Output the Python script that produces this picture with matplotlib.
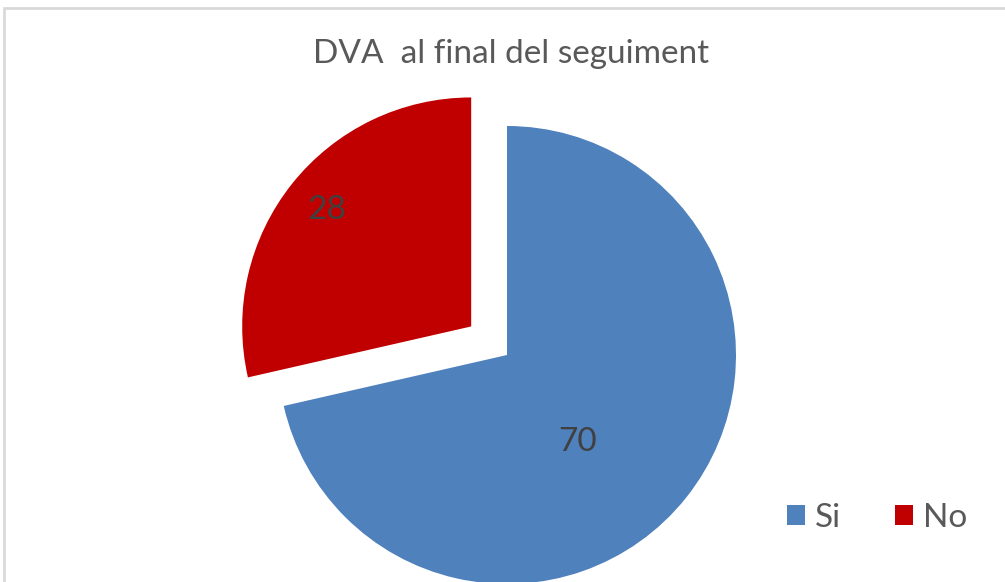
import numpy as np
import matplotlib
matplotlib.use("Agg")
from matplotlib import pyplot as plt
from matplotlib.patches import Rectangle

# data
labels = ["Si", "No"]
values = [70, 28]
colors = ["#4F81BD", "#C00000"]
explode = [0, 0.2]  # fraction of radius

plt.rcParams['font.family'] = ['Lato', 'DejaVu Sans']

fig = plt.figure(figsize=(10.05, 5.82), dpi=100)
ax = fig.add_axes([0, 0, 1, 1])

# chart frame
fig.patches.append(Rectangle((4 / 1005, -0.1), 1.2, (582 - 8) / 582 + 0.1,
                             transform=fig.transFigure, fill=False,
                             edgecolor="#D9D9D9", linewidth=2))

center = (507, 582 - 355)
radius = 229
wedges, _ = ax.pie(values, colors=colors, explode=[e * radius for e in explode],
                   startangle=90, counterclock=False, center=center, radius=radius,
                   wedgeprops=dict(linewidth=0), frame=True)
ax.set_xlim(0, 1005)
ax.set_ylim(0, 582)
ax.set_aspect('equal')
ax.axis('off')

# data labels (Excel-ish placement)
label_pos = [(-51, 0.49), (141, 0.81)]
for w, v, (ang, frac) in zip(wedges, values, label_pos):
    cx, cy = w.center
    r = w.r
    ax.text(cx + frac * r * np.cos(np.radians(ang)),
            cy + frac * r * np.sin(np.radians(ang)),
            str(v), ha='center', va='center', fontsize=24, color="#404040")

fig.text(511 / 1005, 1 - 54 / 582, "DVA  al final del seguiment",
         ha='center', va='center', fontsize=24, color="#595959")

leg = ax.legend(wedges, labels, loc='center', bbox_to_anchor=(877 / 1005, 1 - 518 / 582),
                bbox_transform=fig.transFigure, ncol=2, frameon=False,
                fontsize=24, handlelength=0.55, handleheight=0.55,
                columnspacing=1.6, handletextpad=0.3, labelcolor="#595959")

fig.savefig("out.png", dpi=100)
